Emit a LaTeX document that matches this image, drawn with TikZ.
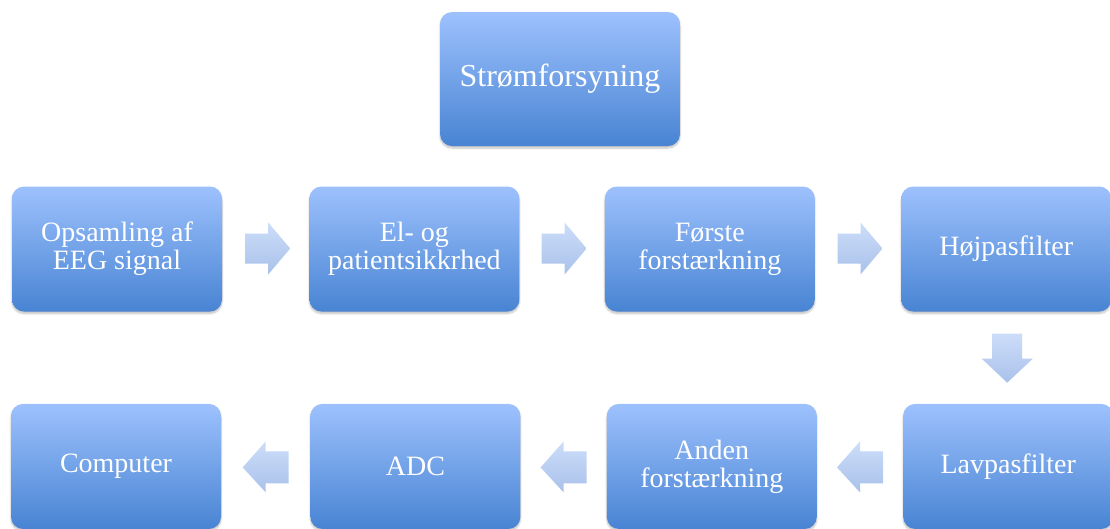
\documentclass[tikz,border=0pt]{standalone}
\usepackage{fontspec}
\setmainfont{Liberation Serif}
\usepackage{tikz}
\usetikzlibrary{positioning,calc,shadows.blur}

\definecolor{boxtop}{HTML}{9DC1FD}
\definecolor{boxbot}{HTML}{4884D3}
\definecolor{arrtop}{HTML}{CCDDF9}
\definecolor{arrbot}{HTML}{A9C1EA}

\begin{document}
\begin{tikzpicture}[
    x=1pt, y=-1pt,
    node distance=92pt and 87pt,
    stage/.style={rectangle, rounded corners=12pt, top color=boxtop, bottom color=boxbot, draw=none,
        minimum width=210pt, minimum height=125pt, align=center, text=white,
        font=\fontsize{28}{28}\selectfont,
        blur shadow={shadow xshift=0pt, shadow yshift=-2pt, shadow blur steps=6, shadow opacity=25}},
    supplybox/.style={stage, minimum width=240pt, minimum height=134pt, font=\fontsize{32}{34}\selectfont},
    flow/.style={top color=arrtop, bottom color=arrbot, draw=none}
]
\useasboundingbox (0,0) rectangle (1110,528);

% power supply on top
\node[supplybox] (supply) at (560,79) {Strømforsyning};

% first row: left to right
\node[stage] (pickup) at (117,249) {Opsamling af\\EEG signal};
\node[stage, right=of pickup] (safety) {El- og\\patientsikkrhed};
\node[stage, right=85pt of safety] (firstamp) {Første\\forstærkning};
\node[stage, right=86pt of firstamp] (highpass) {Højpasfilter};

% second row: right to left
\node[stage, below=of highpass, xshift=2pt] (lowpass) {Lavpasfilter};
\node[stage, left=86pt of lowpass] (secondamp) {Anden\\forstærkning};
\node[stage, left=86pt of secondamp] (adc) {ADC};
\node[stage, left=89pt of adc] (computer) {Computer};

% block arrows between the stages
\coordinate (a1) at ($(pickup.east)!0.5!(safety.west)$);
\coordinate (a2) at ($(safety.east)!0.5!(firstamp.west)$);
\coordinate (a3) at ($(firstamp.east)!0.5!(highpass.west)$);
\coordinate (a4) at ($(highpass.south)!0.5!(lowpass.north)$);
\coordinate (a5) at ($(lowpass.west)!0.5!(secondamp.east)$);
\coordinate (a6) at ($(secondamp.west)!0.5!(adc.east)$);
\coordinate (a7) at ($(adc.west)!0.5!(computer.east)$);

\foreach \m in {a1,a2,a3}
    \shade[flow] (\m) ++(-20.5,-15.5) -- ++(23,0) -- ++(0,-11) -- ++(22,26) -- ++(-22,26) -- ++(0,-11) -- ++(-23,0) -- cycle;
\foreach \m in {a5,a6,a7}
    \shade[flow] (\m) ++(23,-15) -- ++(-23,0) -- ++(0,-10) -- ++(-23,26) -- ++(23,25) -- ++(0,-9) -- ++(23,0) -- cycle;
\shade[flow] (a4) ++(-15,-24) -- ++(30,0) -- ++(0,25) -- ++(10.5,0) -- ++(-25.5,24) -- ++(-25.5,-24) -- ++(10.5,0) -- cycle;

\end{tikzpicture}
\end{document}
